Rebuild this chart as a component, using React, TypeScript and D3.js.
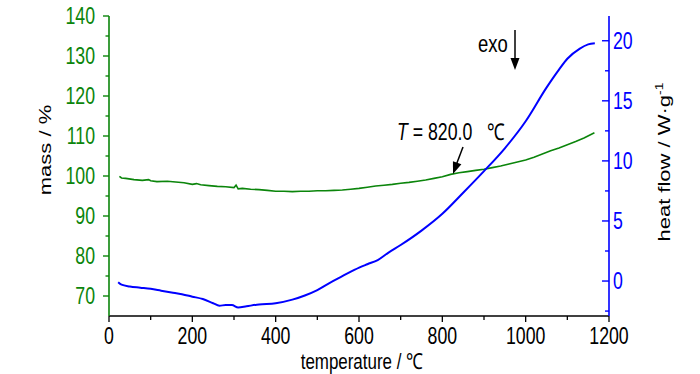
import React from 'react';
import * as d3 from 'd3';

// mass curve (TG)
const massT = [25, 30, 40, 60, 80, 95, 100, 115, 140, 160, 180, 200, 210, 220, 240, 260, 280, 300, 305, 310, 320, 340, 360, 380, 400, 420, 440, 460, 480, 500, 520, 540, 560, 580, 600, 620, 640, 660, 680, 700, 720, 740, 760, 780, 800, 820, 840, 860, 880, 900, 920, 940, 960, 980, 1000, 1020, 1040, 1060, 1080, 1100, 1120, 1140, 1165];
const massVals = [99.9, 99.5, 99.4, 99.1, 98.9, 99.1, 98.8, 98.6, 98.7, 98.5, 98.3, 97.9, 98.1, 97.8, 97.6, 97.4, 97.3, 97.1, 97.7, 96.8, 96.9, 96.7, 96.6, 96.4, 96.2, 96.2, 96.1, 96.2, 96.2, 96.3, 96.3, 96.4, 96.5, 96.7, 96.9, 97.2, 97.5, 97.7, 97.9, 98.2, 98.4, 98.7, 99.0, 99.4, 99.8, 100.4, 100.8, 101.1, 101.4, 101.7, 102.1, 102.5, 103.0, 103.5, 104.0, 104.7, 105.5, 106.3, 107.0, 107.8, 108.6, 109.5, 110.8];

// heat flow curve (DSC)
const heatT = [22, 30, 50, 75, 100, 125, 150, 175, 200, 225, 250, 265, 280, 295, 310, 330, 360, 400, 440, 470, 500, 530, 560, 590, 620, 645, 670, 700, 750, 800, 850, 900, 950, 1000, 1050, 1080, 1100, 1130, 1150, 1166];
const heatVals = [-0.1, -0.3, -0.45, -0.55, -0.65, -0.8, -0.95, -1.1, -1.3, -1.5, -1.85, -2.05, -2.0, -2.0, -2.2, -2.1, -1.95, -1.85, -1.55, -1.2, -0.75, -0.15, 0.4, 0.95, 1.4, 1.75, 2.35, 3.0, 4.2, 5.6, 7.35, 9.15, 11.05, 13.3, 16.1, 17.6, 18.5, 19.35, 19.7, 19.8];

const xTicks = [0, 200, 400, 600, 800, 1000, 1200];
const xMinor = [100, 300, 500, 700, 900, 1100];
const massTicks = [70, 80, 90, 100, 110, 120, 130, 140];
const massMinor = [75, 85, 95, 105, 115, 125, 135];
const heatTicks = [0, 5, 10, 15, 20];
const heatMinor = [-2.5, 2.5, 7.5, 12.5, 17.5];

const GREEN = '#0b850b';
const BLUE = '#0000ff';
const FONT = '"Liberation Sans", Arial, sans-serif';
const SX = 0.77;

const Label = ({ x, y, anchor = 'middle', size = 23, fill = '#000', rotate = 0, children }: any) => (
  <text
    transform={`translate(${x},${y}) scale(${SX},1)${rotate ? ` rotate(${rotate})` : ''}`}
    textAnchor={anchor}
    fontSize={size}
    fontFamily={FONT}
    fill={fill}
  >
    {children}
  </text>
);

const arrowHead = (x1: number, y1: number, x2: number, y2: number, len = 12, half = 4.5) => {
  const dx = x2 - x1, dy = y2 - y1;
  const l = Math.hypot(dx, dy);
  const ux = dx / l, uy = dy / l;
  const bx = x2 - ux * len, by = y2 - uy * len;
  return `${x2},${y2} ${bx - uy * half},${by + ux * half} ${bx + uy * half},${by - ux * half}`;
};

export default function App() {
  const width = 700, height = 374;
  const left = 109, right = 609, top = 16, bottom = 316;

  const x = d3.scaleLinear().domain([0, 1200]).range([left, right]);
  const yMass = d3.scaleLinear().domain([65, 140]).range([bottom, top]);
  const yHeat = d3.scaleLinear().domain([-2.91, 22.06]).range([bottom, top]);

  const massLine = d3.line<number>().x((_, i) => x(massT[i])).y(d => yMass(d));
  const heatLine = d3.line<number>().x((_, i) => x(heatT[i])).y(d => yHeat(d)).curve(d3.curveMonotoneX);

  // annotation arrows
  const tA = { x1: 463, y1: 147, x2: 453, y2: 174 };
  const eA = { x1: 515, y1: 30, x2: 515, y2: 70 };

  return (
    <div style={{ position: 'absolute', left: 0, top: 0 }}>
      <svg width={width} height={height} viewBox={`0 0 ${width} ${height}`} style={{ display: 'block', background: '#fff' }}>
        {/* curves */}
        <path d={massLine(massVals) || ''} fill="none" stroke={GREEN} strokeWidth={1.6} />
        <path d={heatLine(heatVals) || ''} fill="none" stroke={BLUE} strokeWidth={2} />

        {/* x axis */}
        <line x1={left} x2={right} y1={bottom} y2={bottom} stroke="#000" strokeWidth={1.5} />
        {xTicks.map(t => (
          <g key={`xt-${t}`}>
            <line x1={x(t)} x2={x(t)} y1={bottom} y2={bottom + 6} stroke="#000" strokeWidth={1.3} />
            <Label x={x(t)} y={bottom + 28}>{t}</Label>
          </g>
        ))}
        {xMinor.map(t => (
          <line key={`xm-${t}`} x1={x(t)} x2={x(t)} y1={bottom} y2={bottom + 4} stroke="#000" strokeWidth={1.3} />
        ))}
        <Label x={(left + right) / 2 + 3} y={bottom + 53} size={22}>temperature / ℃</Label>

        {/* left axis (mass) */}
        <line x1={left} x2={left} y1={top} y2={bottom} stroke={GREEN} strokeWidth={1.6} />
        {massTicks.map(t => (
          <g key={`mt-${t}`}>
            <line x1={left - 6} x2={left} y1={yMass(t)} y2={yMass(t)} stroke={GREEN} strokeWidth={1.4} />
            <Label x={left - 14} y={yMass(t) + 8} anchor="end" fill={GREEN}>{t}</Label>
          </g>
        ))}
        {massMinor.map(t => (
          <line key={`mm-${t}`} x1={left - 3.5} x2={left} y1={yMass(t)} y2={yMass(t)} stroke={GREEN} strokeWidth={1.4} />
        ))}
        <Label x={51} y={150} rotate={-90} size={22}>mass / %</Label>

        {/* right axis (heat flow) */}
        <line x1={right} x2={right} y1={top} y2={bottom} stroke={BLUE} strokeWidth={1.6} />
        {heatTicks.map(t => (
          <g key={`ht-${t}`}>
            <line x1={right - 7} x2={right} y1={yHeat(t)} y2={yHeat(t)} stroke={BLUE} strokeWidth={1.4} />
            <Label x={right + 4} y={yHeat(t) + 8} anchor="start" fill={BLUE}>{t}</Label>
          </g>
        ))}
        {heatMinor.map(t => (
          <line key={`hm-${t}`} x1={right - 4} x2={right} y1={yHeat(t)} y2={yHeat(t)} stroke={BLUE} strokeWidth={1.4} />
        ))}
        <Label x={670} y={162} rotate={-90} size={22}>
          heat flow / W·g<tspan dy={-9} fontSize={14}>-1</tspan>
        </Label>

        {/* annotations */}
        <Label x={397} y={140} anchor="start">
          <tspan fontStyle="italic">T</tspan>{' = 820.0\u00a0\u00a0\u00a0℃'}
        </Label>
        <line x1={tA.x1} y1={tA.y1} x2={tA.x2 + 2} y2={tA.y2 - 6} stroke="#000" strokeWidth={1.5} />
        <polygon points={arrowHead(tA.x1, tA.y1, tA.x2, tA.y2)} fill="#000" />

        <Label x={478} y={52} anchor="start" size={24}>exo</Label>
        <line x1={eA.x1} y1={eA.y1} x2={eA.x2} y2={eA.y2 - 6} stroke="#000" strokeWidth={1.5} />
        <polygon points={arrowHead(eA.x1, eA.y1, eA.x2, eA.y2)} fill="#000" />
      </svg>
    </div>
  );
}
